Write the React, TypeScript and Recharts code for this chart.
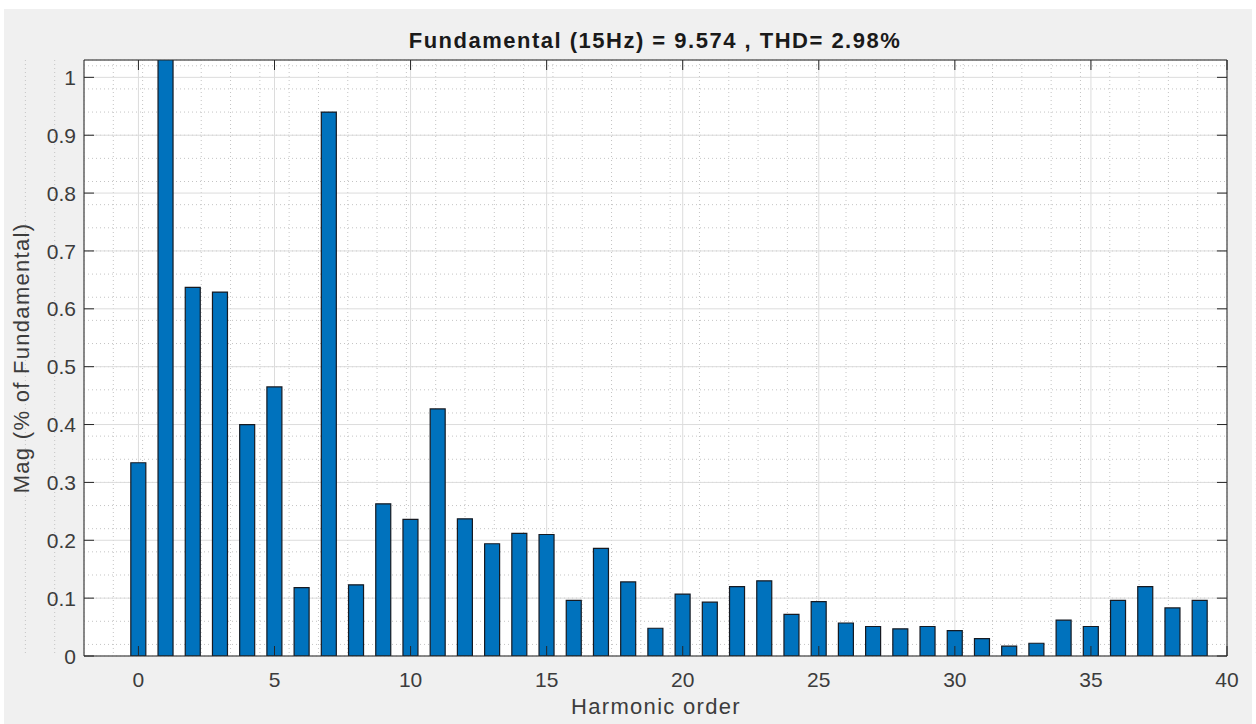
import React from "react";
import { BarChart, Bar, XAxis, YAxis, CartesianGrid } from "recharts";

// harmonic order and magnitude (% of fundamental)
const orders = [
  0, 1, 2, 3, 4, 5, 6, 7, 8, 9, 10, 11, 12, 13, 14, 15, 16, 17, 18, 19,
  20, 21, 22, 23, 24, 25, 26, 27, 28, 29, 30, 31, 32, 33, 34, 35, 36, 37, 38, 39,
];
const mags = [
  0.334, 100, 0.637, 0.629, 0.4, 0.465, 0.118, 0.94, 0.123, 0.263,
  0.236, 0.427, 0.237, 0.194, 0.212, 0.21, 0.096, 0.186, 0.128, 0.048,
  0.107, 0.093, 0.12, 0.13, 0.072, 0.094, 0.057, 0.051, 0.047, 0.051,
  0.044, 0.03, 0.017, 0.022, 0.062, 0.051, 0.096, 0.12, 0.083, 0.096,
];

const xTicks = [0, 5, 10, 15, 20, 25, 30, 35, 40];
const yTicks = [0, 0.1, 0.2, 0.3, 0.4, 0.5, 0.6, 0.7, 0.8, 0.9, 1];
const xDomain: [number, number] = [-2, 40];
const yDomain: [number, number] = [0, 1.03];

// minor grid every 1 harmonic and every 0.02
const xMinor = Array.from({ length: 43 }, (_, i) => i - 2);
const yMinor = Array.from({ length: 52 }, (_, i) => +(i * 0.02).toFixed(2));

const data = orders.map((h, i) => ({ h, mag: mags[i] }));

const FONT = '"Liberation Sans", Arial, Helvetica, sans-serif';
const AXIS = "#262626";
const TEXT = "#3c3c3c";
const TICK_LEN = 10;
const X_MARGIN = 31; // axis -> label baseline
const Y_MARGIN = 8; // axis -> label right edge
const PLOT_TOP = 60; // margin.top + top axis height

// inward tick marks drawn by hand, matlab puts them inside the box
const BottomTick = (props: any) => {
  const { x, y, payload } = props;
  const axisY = y - X_MARGIN;
  return (
    <g>
      <line x1={x} x2={x} y1={axisY} y2={axisY - TICK_LEN} stroke={AXIS} />
      <line x1={x} x2={x} y1={PLOT_TOP} y2={PLOT_TOP + TICK_LEN} stroke={AXIS} />
      <text
        x={x}
        y={y}
        textAnchor="middle"
        fill={TEXT}
        fontSize={21}
        fontFamily={FONT}
      >
        {payload.value}
      </text>
    </g>
  );
};

const LeftTick = (props: any) => {
  const { x, y, payload } = props;
  const axisX = x + Y_MARGIN;
  return (
    <g>
      <line x1={axisX} x2={axisX + TICK_LEN} y1={y} y2={y} stroke={AXIS} />
      <text
        x={x}
        y={y}
        dy="0.36em"
        textAnchor="end"
        fill={TEXT}
        fontSize={21}
        fontFamily={FONT}
      >
        {payload.value}
      </text>
    </g>
  );
};

const RightTick = (props: any) => {
  const { x, y } = props;
  return <line x1={x - TICK_LEN} x2={x} y1={y} y2={y} stroke={AXIS} />;
};

export default function App() {
  return (
    <div
      style={{
        position: "absolute",
        left: 0,
        top: 0,
        width: 1256,
        height: 724,
        background: "#ffffff",
        fontFamily: FONT,
      }}
    >
      <div
        style={{
          position: "absolute",
          left: 4,
          top: 9,
          right: 4,
          bottom: 0,
          background: "#f0f0f0",
        }}
      />

      <div style={{ position: "absolute", left: 0, top: 0 }}>
        <BarChart
          width={1256}
          height={724}
          data={data}
          margin={{ top: 59, right: 28, bottom: 28, left: 34 }}
        >
          {/* MINOR GRID */}
          <CartesianGrid
            xAxisId="minorX"
            yAxisId="minorY"
            stroke="#c4c4c4"
            strokeDasharray="1 3"
            fill="#ffffff"
            fillOpacity={1}
          />
          {/* MAJOR GRID */}
          <CartesianGrid stroke="#dcdcdc" />

          <XAxis
            xAxisId="minorX"
            type="number"
            domain={xDomain}
            ticks={xMinor}
            allowDataOverflow
            hide
          />
          <YAxis
            yAxisId="minorY"
            type="number"
            domain={yDomain}
            ticks={yMinor}
            allowDataOverflow
            hide
          />

          {/* X */}
          <XAxis
            dataKey="h"
            type="number"
            domain={xDomain}
            ticks={xTicks}
            allowDataOverflow
            height={40}
            stroke={AXIS}
            tickLine={false}
            tickSize={0}
            tickMargin={X_MARGIN}
            tick={<BottomTick />}
          />
          <XAxis
            xAxisId="top"
            orientation="top"
            type="number"
            domain={xDomain}
            allowDataOverflow
            height={1}
            stroke={AXIS}
            tick={false}
            tickLine={false}
          />

          {/* Y */}
          <YAxis
            type="number"
            domain={yDomain}
            ticks={yTicks}
            allowDataOverflow
            width={50}
            stroke={AXIS}
            tickLine={false}
            tickSize={0}
            tickMargin={Y_MARGIN}
            tick={<LeftTick />}
          />
          <YAxis
            yAxisId="right"
            orientation="right"
            type="number"
            domain={yDomain}
            ticks={yTicks}
            allowDataOverflow
            width={1}
            stroke={AXIS}
            tickLine={false}
            tickSize={0}
            tickMargin={0}
            tick={<RightTick />}
          />

          <Bar
            dataKey="mag"
            fill="#0072bd"
            stroke="#161a22"
            strokeWidth={1.2}
            barSize={15}
            isAnimationActive={false}
          />
        </BarChart>
      </div>

      {/* TITLE */}
      <div
        style={{
          position: "absolute",
          left: 655,
          top: 28,
          transform: "translateX(-50%)",
          whiteSpace: "nowrap",
          fontSize: 22,
          fontWeight: "bold",
          letterSpacing: 1.5,
          color: "#1a1a1a",
          lineHeight: "26px",
        }}
      >
        Fundamental (15Hz) = 9.574 , THD= 2.98%
      </div>

      {/* X LABEL */}
      <div
        style={{
          position: "absolute",
          left: 656,
          top: 694,
          transform: "translateX(-50%)",
          whiteSpace: "nowrap",
          fontSize: 22,
          letterSpacing: 1.3,
          color: TEXT,
          lineHeight: "26px",
        }}
      >
        Harmonic order
      </div>

      {/* Y LABEL */}
      <div
        style={{
          position: "absolute",
          left: 22,
          top: 358,
          transform: "translate(-50%, -50%) rotate(-90deg)",
          whiteSpace: "nowrap",
          fontSize: 22,
          letterSpacing: 1.3,
          color: TEXT,
          lineHeight: "26px",
        }}
      >
        Mag (% of Fundamental)
      </div>
    </div>
  );
}
